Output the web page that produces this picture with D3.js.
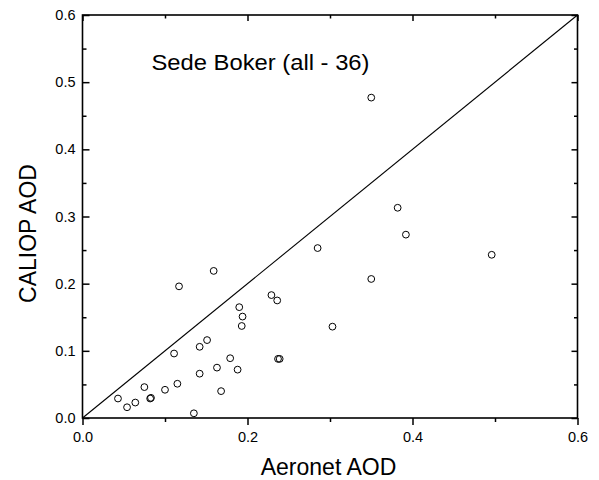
<!DOCTYPE html>
<html>
<head>
<meta charset="utf-8">
<script src="https://cdn.jsdelivr.net/npm/d3@7"></script>
<style>
  html, body { margin: 0; padding: 0; background: #fff; }
  svg { display: block; font-family: "Liberation Sans", Arial, sans-serif; }
</style>
</head>
<body>
<svg id="chart" width="599" height="480"></svg>
<script>
// Data (Aeronet AOD vs CALIOP AOD, Sede Boker)
const aeronetAOD = [0.043, 0.054, 0.064, 0.075, 0.082, 0.083, 0.100, 0.115, 0.111, 0.117,
  0.135, 0.142, 0.142, 0.151, 0.163, 0.168, 0.179, 0.188, 0.190, 0.194, 0.193, 0.159,
  0.285, 0.229, 0.236, 0.303, 0.237, 0.239, 0.350, 0.382, 0.392, 0.496, 0.350];
const caliopAOD = [0.029, 0.016, 0.023, 0.046, 0.029, 0.030, 0.042, 0.051, 0.096, 0.196,
  0.007, 0.066, 0.106, 0.116, 0.075, 0.040, 0.089, 0.072, 0.165, 0.151, 0.137, 0.219,
  0.253, 0.183, 0.175, 0.136, 0.088, 0.088, 0.477, 0.313, 0.273, 0.243, 0.207];
const majorTicks = [0.0, 0.2, 0.4, 0.6];
const yMajorTicks = [0.0, 0.1, 0.2, 0.3, 0.4, 0.5, 0.6];
const xMinorTicks = [0.1, 0.3, 0.5];
const yMinorTicks = [0.05, 0.15, 0.25, 0.35, 0.45, 0.55];
const titleText = "Sede Boker (all - 36)";
const xLabel = "Aeronet AOD";
const yLabel = "CALIOP AOD";

const svg = d3.select("#chart");
const L = 82.5, R = 577.5, T = 15, B = 418;
const x = d3.scaleLinear().domain([0, 0.6]).range([L, R]);
const y = d3.scaleLinear().domain([0, 0.6]).range([B, T]);
const fmt = d3.format(".1f");

// 1:1 line
svg.append("line")
  .attr("x1", x(0)).attr("y1", y(0)).attr("x2", x(0.6)).attr("y2", y(0.6))
  .attr("stroke", "#000").attr("stroke-width", 1.1);

// points
svg.append("g").selectAll("circle")
  .data(aeronetAOD.map((v, i) => [v, caliopAOD[i]]))
  .join("circle")
  .attr("cx", d => x(d[0])).attr("cy", d => y(d[1])).attr("r", 3.4)
  .attr("fill", "none").attr("stroke", "#000").attr("stroke-width", 1);

function styleAxis(g) {
  g.select(".domain").remove();
  g.selectAll("line").attr("stroke", "#000").attr("stroke-width", 1.5);
  g.selectAll("text").attr("fill", "#000").attr("font-size", "14.5px")
    .attr("font-family", "Liberation Sans, Arial, sans-serif");
}

// bottom axis (outward ticks)
svg.append("g").attr("transform", `translate(0,${B})`)
  .call(d3.axisBottom(x).tickValues(majorTicks).tickFormat(fmt).tickSize(7).tickPadding(7))
  .call(styleAxis);
svg.append("g").attr("transform", `translate(0,${B})`)
  .call(d3.axisBottom(x).tickValues(xMinorTicks).tickFormat("").tickSize(4))
  .call(styleAxis);
// top axis (inward ticks)
svg.append("g").attr("transform", `translate(0,${T})`)
  .call(d3.axisBottom(x).tickValues(majorTicks).tickFormat("").tickSize(6))
  .call(styleAxis);
svg.append("g").attr("transform", `translate(0,${T})`)
  .call(d3.axisBottom(x).tickValues(xMinorTicks).tickFormat("").tickSize(3.5))
  .call(styleAxis);
// left axis (inward ticks)
svg.append("g").attr("transform", `translate(${L},0)`)
  .call(d3.axisRight(y).tickValues(yMajorTicks).tickFormat("").tickSize(7))
  .call(styleAxis);
svg.append("g").attr("transform", `translate(${L},0)`)
  .call(d3.axisRight(y).tickValues(yMinorTicks).tickFormat("").tickSize(4))
  .call(styleAxis);
svg.append("g").attr("transform", `translate(${L},0)`)
  .call(d3.axisLeft(y).tickValues(yMajorTicks).tickFormat(fmt).tickSize(0).tickPadding(7))
  .call(styleAxis);
// right axis (inward ticks)
svg.append("g").attr("transform", `translate(${R},0)`)
  .call(d3.axisLeft(y).tickValues(yMajorTicks).tickFormat("").tickSize(6))
  .call(styleAxis);
svg.append("g").attr("transform", `translate(${R},0)`)
  .call(d3.axisLeft(y).tickValues(yMinorTicks).tickFormat("").tickSize(3.5))
  .call(styleAxis);

// frame
svg.append("rect").attr("x", L).attr("y", T).attr("width", R - L).attr("height", B - T)
  .attr("fill", "none").attr("stroke", "#000").attr("stroke-width", 1.6);

// title inside plot
svg.append("text").attr("x", 151.5).attr("y", 70)
  .attr("font-size", "22px").attr("fill", "#000")
  .attr("textLength", 218).attr("lengthAdjust", "spacingAndGlyphs")
  .text(titleText);

// axis labels
svg.append("text").attr("x", 328.5).attr("y", 475)
  .attr("text-anchor", "middle").attr("font-size", "23px").attr("fill", "#000").text(xLabel);
svg.append("text").attr("transform", "translate(36,233.5) rotate(-90)")
  .attr("text-anchor", "middle").attr("font-size", "23px").attr("fill", "#000").text(yLabel);
</script>
</body>
</html>
